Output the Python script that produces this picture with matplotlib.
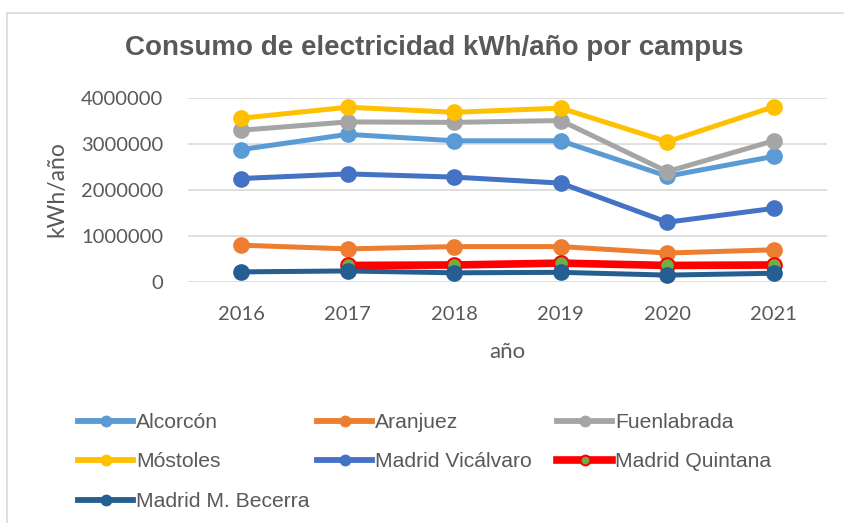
import matplotlib
matplotlib.use("Agg")
import matplotlib.pyplot as plt
from matplotlib.lines import Line2D
from matplotlib.patches import Rectangle
import numpy as np

years = ["2016", "2017", "2018", "2019", "2020", "2021"]
alcorcon = [2880000, 3210000, 3070000, 3070000, 2300000, 2730000]
aranjuez = [800000, 720000, 770000, 770000, 630000, 700000]
fuenlabrada = [3300000, 3480000, 3470000, 3510000, 2400000, 3070000]
mostoles = [3560000, 3800000, 3690000, 3780000, 3050000, 3810000]
vicalvaro = [2250000, 2350000, 2280000, 2150000, 1300000, 1600000]
quintana = [np.nan, 360000, 370000, 410000, 360000, 370000]
becerra = [220000, 240000, 200000, 210000, 150000, 190000]

names = ["Alcorcón", "Aranjuez", "Fuenlabrada", "Móstoles", "Madrid Vicálvaro",
         "Madrid Quintana", "Madrid M. Becerra"]
series = [alcorcon, aranjuez, fuenlabrada, mostoles, vicalvaro, quintana, becerra]
colors = ["#5B9BD5", "#ED7D31", "#A5A5A5", "#FFC000", "#4472C4", "#FF0000", "#255E91"]
face = ["#5B9BD5", "#ED7D31", "#A5A5A5", "#FFC000", "#4472C4", "#70AD47", "#255E91"]
yticks = [0, 1000000, 2000000, 3000000, 4000000]

W, H = 844, 523
fig = plt.figure(figsize=(W / 100, H / 100), dpi=100)
TXT = "#595959"

# chart border (left/top visible)
fig.patches.append(Rectangle((6.5 / W, -0.1), 1.2, 1 - 13.5 / H + 0.1,
                             transform=fig.transFigure, fill=False,
                             edgecolor="#D9D9D9", linewidth=1.2))

x0, x1, yb, yt = 188, 827, 282, 98
ax = fig.add_axes([x0 / W, 1 - yb / H, (x1 - x0) / W, (yb - yt) / H])
x = np.arange(len(years))
for i in [1, 5, 6, 4, 0, 2, 3]:
    lw = 5.5 if i == 5 else 3.6
    ax.plot(x, series[i], color=colors[i], lw=lw, marker="o", markersize=10.5,
            markerfacecolor=face[i], markeredgecolor=colors[i],
            markeredgewidth=1.5, clip_on=False, zorder=3 + (1 if i == 6 else 0),
            solid_capstyle="round")

ax.set_xlim(-0.5, len(years) - 0.5)
ax.set_ylim(0, 4000000)
ax.set_yticks(yticks)
ax.set_yticklabels([str(v) for v in yticks])
ax.set_xticks(x)
ax.set_xticklabels(years)
ax.grid(axis="y", color="#D9D9D9", linewidth=1.2)
ax.set_axisbelow(True)
for s in ax.spines.values():
    s.set_visible(False)
ax.tick_params(length=0, labelsize=14.5, labelcolor=TXT)
ax.tick_params(axis="y", pad=18)
ax.tick_params(axis="x", pad=17.5)
for lab in ax.get_xticklabels() + ax.get_yticklabels():
    lab.set_fontfamily("Lato")

fig.text(434 / W, 1 - 55 / H, "Consumo de electricidad kWh/año por campus",
         ha="center", va="baseline", fontsize=20, fontweight="bold",
         color=TXT, family="Liberation Sans")
fig.text(57 / W, 1 - 189 / H, "kWh/año", rotation=90, ha="center", va="center",
         fontsize=16.5, color=TXT, family="Lato")
fig.text(507.5 / W, 1 - 352 / H, "año", ha="center", va="center",
         fontsize=16, color=TXT, family="Lato")

def handle(i):
    return Line2D([0], [0], color=colors[i], lw=5.5 if i == 5 else 4.2,
                  marker="o", markersize=7, markerfacecolor=face[i],
                  markeredgecolor=colors[i], markeredgewidth=1.5)

fs = 15.2
hl = 55 / (fs * 100 / 72)
cols = [([0, 3, 6], 78), ([1, 4], 317), ([2, 5], 557)]
for idxs, xs in cols:
    leg = fig.legend([handle(i) for i in idxs], [names[i] for i in idxs],
                     loc="upper left", bbox_to_anchor=(xs / W, 1 - 413 / H),
                     frameon=False, borderpad=0, borderaxespad=0,
                     handlelength=hl, handletextpad=0.15, labelspacing=0.97,
                     prop={"family": "Liberation Sans", "size": fs})
    for t in leg.get_texts():
        t.set_color(TXT)

fig.savefig("out.png", dpi=100)
